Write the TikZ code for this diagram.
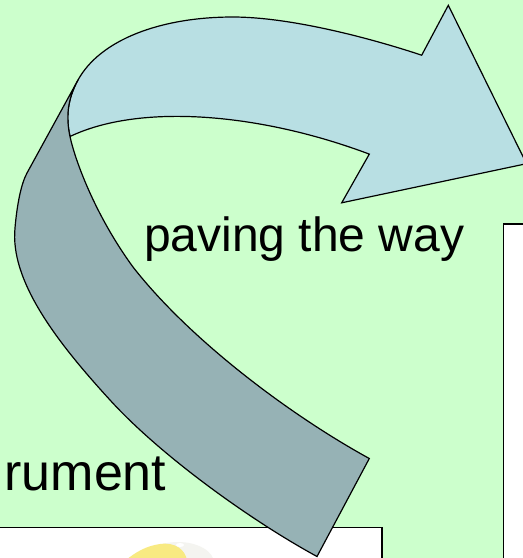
\documentclass[tikz,border=0pt]{standalone}
\usepackage{fontspec}
\setmainfont{Liberation Sans}
\definecolor{bggreen}{HTML}{CCFFCC}
\definecolor{lightband}{HTML}{B8DFE3}
\definecolor{darkband}{HTML}{96B2B5}
\definecolor{lemon}{RGB}{248,234,130}
\definecolor{halo}{RGB}{244,244,240}
\tikzset{
  band/.style={draw=black, line width=1.2pt, line join=miter},
  panel/.style={draw=black, fill=white, line width=1.8pt},
  bigtext/.style={inner sep=0pt, font=\fontsize{48}{58}\selectfont},
}
\begin{document}
\begin{tikzpicture}[x=1pt,y=-1pt]
\useasboundingbox (0,0) rectangle (523,558);
\clip (0,0) rectangle (523,558);
\fill[bggreen] (0,0) rectangle (523,558);
% panels
\draw[panel] (503.5,224) rectangle (535,570);
\draw[panel] (-5,527.5) rectangle (382,570);
% lemon fragment
\fill[halo] (178,563) ellipse [x radius=36, y radius=21];
\fill[lemon] (126,560) .. controls (136,552) and (146,546) .. (160,544)
  .. controls (176,542) and (185,550) .. (187,560) -- cycle;
\fill[white] (180,545) ellipse [x radius=4, y radius=2];
% texts
\node[bigtext, anchor=base west] (paving) at (144,251.7) {paving the way};
\node[bigtext, anchor=base east, font=\fontsize{52}{62}\selectfont] (rument) at (166.5,490) {rument};
% named points of the band
\coordinate (J) at (78,80);
\coordinate (N1) at (421.7,55.2);
\coordinate (B1) at (448.3,5.3);
\coordinate (T) at (526.5,163.7);
\coordinate (B2) at (341.7,202.8);
\coordinate (N2) at (369.3,154.1);
\coordinate (I) at (70,136.5);
\coordinate (E1) at (369.3,458.5);
\coordinate (E2) at (317,556.5);
% light (upper) part of the arrow
\draw[band, fill=lightband]
  (J) .. controls (100,40) and (160,17) .. (233,17)
      .. controls (290,17) and (370,38) .. (N1)
  -- (B1) -- (T) -- (B2) -- (N2)
  .. controls (260,113) and (140,103) .. (I)
  .. controls (66,118) and (67,100) .. (J) -- cycle;
% dark (lower) part of the band
\draw[band, fill=darkband]
  (J) .. controls (67,100) and (66,118) .. (I)
      .. controls (75,160) and (95,215) .. (133,267)
      .. controls (190,340) and (290,415) .. (E1)
  -- (E2)
  .. controls (250,520) and (160,455) .. (110,400)
  .. controls (55,340) and (10,280) .. (15,228)
  .. controls (17,205) and (21,184) .. (27,173)
  -- (J) -- cycle;
\end{tikzpicture}
\end{document}
